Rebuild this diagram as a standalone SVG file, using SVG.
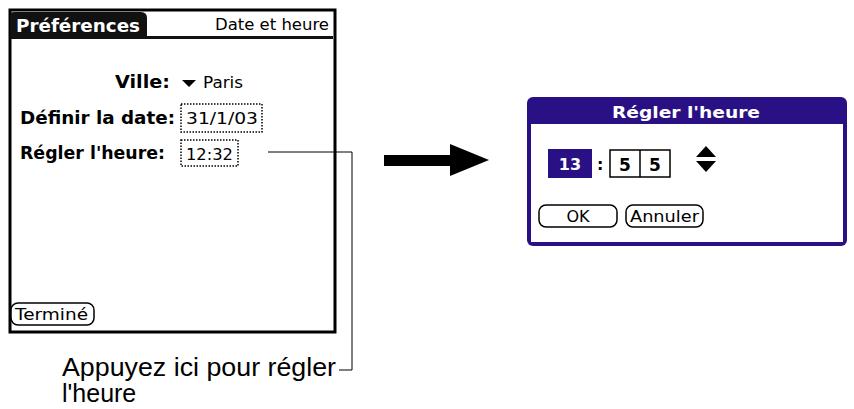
<svg xmlns="http://www.w3.org/2000/svg" width="854" height="409" viewBox="0 0 854 409">
<style>
.b{font-family:"DejaVu Sans",sans-serif;font-weight:bold;fill:#000}
.n{font-family:"DejaVu Sans",sans-serif;fill:#000}
.dot{fill:none;stroke:#000;stroke-width:1.5;stroke-dasharray:1.5 1.5}
.btn{fill:#fff;stroke:#000;stroke-width:1.5}
</style>
<rect width="854" height="409" fill="#fff"/>
<g id="screen">
<rect x="10" y="10" width="325" height="322" fill="#fff" stroke="#000" stroke-width="3"/>
<path d="M10 38 V16 Q10 12 14 12 H141 Q147 12 147 18 V38 Z" fill="#111"/>
<rect x="10" y="36" width="323" height="3" fill="#111"/>
<text x="16" y="32" class="b" font-size="17" style="fill:#fff" textLength="124" lengthAdjust="spacingAndGlyphs">Préférences</text>
<text x="215" y="30" class="n" font-size="16" textLength="114" lengthAdjust="spacingAndGlyphs">Date et heure</text>
<text x="115" y="88" class="b" font-size="17" textLength="55" lengthAdjust="spacingAndGlyphs">Ville:</text>
<polygon points="182,80 196,80 189,87" fill="#000"/>
<text x="203" y="88" class="n" font-size="16" textLength="40" lengthAdjust="spacingAndGlyphs">Paris</text>
<text x="20" y="124" class="b" font-size="17" textLength="155" lengthAdjust="spacingAndGlyphs">Définir la date:</text>
<rect x="181" y="104" width="81" height="28" class="dot"/>
<text x="186" y="124" class="n" font-size="16" textLength="72" lengthAdjust="spacingAndGlyphs">31/1/03</text>
<text x="20" y="159" class="b" font-size="17" textLength="145" lengthAdjust="spacingAndGlyphs">Régler l'heure:</text>
<rect x="181" y="140" width="57" height="26" class="dot"/>
<text x="186" y="160" class="n" font-size="15" textLength="47" lengthAdjust="spacingAndGlyphs">12:32</text>
<rect x="11" y="303" width="83" height="22" rx="7" class="btn"/>
<text x="15" y="320" class="n" font-size="15" textLength="73" lengthAdjust="spacingAndGlyphs">Terminé</text>
</g>
<g id="connectors">
<polyline points="268,152 352,152 352,370 339,370" fill="none" stroke="#000" stroke-width="1"/>
<polygon points="384,155 450,155 450,144 489,160 450,176 450,166 384,166" fill="#000"/>
</g>
<g id="label">
<text x="62" y="376" font-family="Liberation Sans,sans-serif" font-size="25" textLength="274" lengthAdjust="spacingAndGlyphs">Appuyez ici pour régler</text>
<text x="62" y="402" font-family="Liberation Sans,sans-serif" font-size="25">l'heure</text>
</g>
<g id="dialog">
<rect x="527" y="97" width="320" height="149" rx="6" fill="#2a1085"/>
<rect x="531" y="124" width="312" height="118" fill="#fff"/>
<text x="612" y="118" class="b" font-size="16" style="fill:#fff" textLength="148" lengthAdjust="spacingAndGlyphs">Régler l'heure</text>
<rect x="548" y="149" width="44" height="29" fill="#2a1085"/>
<text x="570" y="170" class="b" font-size="16" text-anchor="middle" style="fill:#fff">13</text>
<text x="597" y="170" class="b" font-size="16">:</text>
<rect x="610" y="150" width="60" height="27" fill="#fff" stroke="#000" stroke-width="1.5"/>
<line x1="640" y1="150" x2="640" y2="177" stroke="#000" stroke-width="1.5"/>
<text x="625" y="171" class="b" font-size="17" text-anchor="middle">5</text>
<text x="655" y="171" class="b" font-size="17" text-anchor="middle">5</text>
<polygon points="696,157 706,146 716,157" fill="#000"/>
<polygon points="696,161 716,161 706,172" fill="#000"/>
<rect x="539" y="205" width="78" height="22" rx="7" class="btn"/>
<text x="578" y="222" class="n" font-size="16" text-anchor="middle">OK</text>
<rect x="626" y="205" width="77" height="22" rx="7" class="btn"/>
<text x="630" y="222" class="n" font-size="15" textLength="69" lengthAdjust="spacingAndGlyphs">Annuler</text>
</g>
</svg>
